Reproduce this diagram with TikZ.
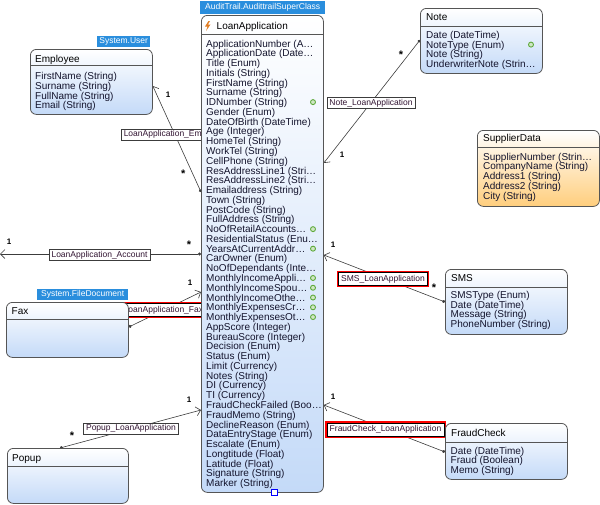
\documentclass[tikz,border=0pt]{standalone}
\usepackage{fontspec}
\setmainfont{Liberation Sans}
\usetikzlibrary{arrows.meta, backgrounds}

\definecolor{boxline}{RGB}{85,85,85}
\definecolor{boxblue}{RGB}{196,218,248}
\definecolor{boxorange}{RGB}{255,206,125}
\definecolor{tagblue}{RGB}{42,142,221}
\definecolor{linkgray}{RGB}{60,60,60}
\definecolor{keygreen}{RGB}{95,170,60}
\definecolor{boltorange}{RGB}{225,125,35}
\definecolor{attrtext}{RGB}{20,20,45}
\definecolor{labeltext}{RGB}{50,20,50}

\begin{document}
\begin{tikzpicture}[x=1pt, y=-1pt, font=\fontsize{10}{12}\selectfont]
		\tikzstyle{classbox} = [rectangle, rounded corners=6pt, draw=boxline, line width=0.8pt, anchor=north west, inner sep=0pt, top color=white, bottom color=boxblue]
		\tikzstyle{supplierbox} = [classbox, bottom color=boxorange]
		\tikzstyle{headsep} = [draw=boxline, line width=0.7pt]
		\tikzstyle{classtitle} = [anchor=base west, inner sep=0pt, text=black]
		\tikzstyle{attrrow} = [anchor=base west, inner sep=0pt, text=attrtext]
		\tikzstyle{keydot} = [circle, draw=keygreen, fill=keygreen!30, line width=0.9pt, minimum size=5pt, inner sep=0pt]
		\tikzstyle{basetag} = [anchor=north west, fill=tagblue, text=white, inner sep=0pt, font=\fontsize{8.5}{10}\selectfont]
		\tikzstyle{linklabel} = [draw=linkgray, fill=white, line width=0.5pt, inner xsep=2.5pt, inner ysep=1.5pt, text=labeltext, font=\fontsize{8.5}{10}\selectfont]
		\tikzstyle{chosen} = [linklabel, inner ysep=2.3pt, draw=black, preaction={draw=red, line width=3.6pt}]
		\tikzstyle{multtext} = [inner sep=0pt, font=\bfseries\fontsize{8}{9}\selectfont]
		\tikzstyle{multstar} = [inner sep=0pt, font=\bfseries\fontsize{11}{12}\selectfont]
		\tikzstyle{assoc} = [draw=linkgray, line width=0.6pt, {Circle[length=3pt]}-{Straight Barb[length=4.5pt, width=9pt]}]
		
		\useasboundingbox (0,0) rectangle (600,504);
		
		% LoanApplication
		\node (loanapp) [classbox, minimum width=122pt, minimum height=477pt] at (201,15) {};
		\draw [headsep] ([yshift=-19pt]loanapp.north west) -- ([yshift=-19pt]loanapp.north east);
		\fill [boltorange] (208.5,21) -- (205,26.5) -- (207.5,26.5) -- (206,31) -- (210.5,24.5) -- (208,24.5) -- (210,21) -- cycle;
		\node (loanapp-title) [classtitle] at (216.5,29) {LoanApplication};
		\foreach \attrname [count=\i] in {ApplicationNumber (A\dots, ApplicationDate (Date\dots, Title (Enum), Initials (String), FirstName (String), Surname (String), IDNumber (String), Gender (Enum), DateOfBirth (DateTime), Age (Integer), HomeTel (String), WorkTel (String), CellPhone (String), ResAddressLine1 (Stri\dots, ResAddressLine2 (Stri\dots, Emailaddress (String), Town (String), PostCode (String), FullAddress (String), NoOfRetailAccounts\dots, ResidentialStatus (Enu\dots, YearsAtCurrentAddr\dots, CarOwner (Enum), NoOfDependants (Inte\dots, MonthlyIncomeAppli\dots, MonthlyIncomeSpou\dots, MonthlyIncomeOthe\dots, MonthlyExpensesCr\dots, MonthlyExpensesOt\dots, AppScore (Integer), BureauScore (Integer), Decision (Enum), Status (Enum), Limit (Currency), Notes (String), DI (Currency), TI (Currency), FraudCheckFailed (Boo\dots, FraudMemo (String), DeclineReason (Enum), DataEntryStage (Enum), Escalate (Enum), Longtitude (Float), Latitude (Float), Signature (String), Marker (String)}
			\node (loanapp-\i) [attrrow] at (206,{47+9.77*(\i-1)}) {\attrname};
		\foreach \i in {7,20,22,25,26,27,28,29}
			\node (loanapp-key-\i) [keydot] at (313,{43.5+9.77*(\i-1)}) {};
		\draw [draw=blue, fill=white, line width=0.6pt] (271.5,489.5) rectangle (277,495);
		\node (loanapp-tag) [basetag, minimum width=125pt, minimum height=13pt] at (200,1) {AuditTrail.AudittrailSuperClass};
		
		% Employee
		\node (employee) [classbox, minimum width=122pt, minimum height=65pt] at (30,49) {};
		\draw [headsep] ([yshift=-16pt]employee.north west) -- ([yshift=-16pt]employee.north east);
		\node (employee-title) [classtitle] at (35,62) {Employee};
		\foreach \attrname [count=\i] in {FirstName (String), Surname (String), FullName (String), Email (String)}
			\node (employee-\i) [attrrow] at (35,{79.5+9.8*(\i-1)}) {\attrname};
		\node (employee-tag) [basetag, minimum width=53pt, minimum height=11pt] at (97,36) {System.User};
		
		% Note
		\node (note) [classbox, minimum width=122pt, minimum height=65pt] at (420,8) {};
		\draw [headsep] ([yshift=-18pt]note.north west) -- ([yshift=-18pt]note.north east);
		\node (note-title) [classtitle] at (426,20.7) {Note};
		\foreach \attrname [count=\i] in {Date (DateTime), NoteType (Enum), Note (String), UnderwriterNote (Strin\dots}
			\node (note-\i) [attrrow] at (426,{38.3+9.8*(\i-1)}) {\attrname};
		\node (note-key) [keydot] at (531,44.6) {};
		
		% SupplierData
		\node (supplier) [supplierbox, minimum width=122pt, minimum height=76pt] at (477,130) {};
		\draw [headsep] ([yshift=-17pt]supplier.north west) -- ([yshift=-17pt]supplier.north east);
		\node (supplier-title) [classtitle] at (483,141.7) {SupplierData};
		\foreach \attrname [count=\i] in {SupplierNumber (Strin\dots, CompanyName (String), Address1 (String), Address2 (String), City (String)}
			\node (supplier-\i) [attrrow] at (483,{160+9.8*(\i-1)}) {\attrname};
		
		% Fax
		\node (fax) [classbox, minimum width=122pt, minimum height=55pt] at (6,302) {};
		\draw [headsep] ([yshift=-17pt]fax.north west) -- ([yshift=-17pt]fax.north east);
		\node (fax-title) [classtitle] at (11.5,314.3) {Fax};
		\node (fax-tag) [basetag, minimum width=91pt, minimum height=11pt] at (37,288.5) {System.FileDocument};
		
		% SMS
		\node (sms) [classbox, minimum width=122pt, minimum height=65pt] at (445,269) {};
		\draw [headsep] ([yshift=-18pt]sms.north west) -- ([yshift=-18pt]sms.north east);
		\node (sms-title) [classtitle] at (451,281.3) {SMS};
		\foreach \attrname [count=\i] in {SMSType (Enum), Date (DateTime), Message (String), PhoneNumber (String)}
			\node (sms-\i) [attrrow] at (450.5,{298.3+9.8*(\i-1)}) {\attrname};
		
		% Popup
		\node (popup) [classbox, minimum width=121pt, minimum height=55pt] at (7,448) {};
		\draw [headsep] ([yshift=-18pt]popup.north west) -- ([yshift=-18pt]popup.north east);
		\node (popup-title) [classtitle] at (12,461) {Popup};
		
		% FraudCheck
		\node (fraud) [classbox, minimum width=122pt, minimum height=56pt] at (445,423) {};
		\draw [headsep] ([yshift=-19pt]fraud.north west) -- ([yshift=-19pt]fraud.north east);
		\node (fraud-title) [classtitle] at (451,436) {FraudCheck};
		\foreach \attrname [count=\i] in {Date (DateTime), Fraud (Boolean), Memo (String)}
			\node (fraud-\i) [attrrow] at (450.5,{454+9.8*(\i-1)}) {\attrname};
		
		% Associations, behind the boxes
		\begin{scope}[on background layer]
		\coordinate (account-end) at (0,254);
		\draw [assoc] ([yshift=-177pt]loanapp.north west) -- ([yshift=-37pt]employee.north east);
		\draw [assoc] ([yshift=-32pt]note.north west) -- ([yshift=-148pt]loanapp.north east);
		\draw [assoc] ([yshift=-239pt]loanapp.north west) -- (account-end);
		\draw [assoc] ([yshift=-25pt]fax.north east) -- ([yshift=-277pt]loanapp.north west);
		\draw [assoc] ([yshift=-33pt]sms.north west) -- ([yshift=-240pt]loanapp.north east);
		\draw [assoc] ([xshift=53pt]popup.north west) -- ([yshift=-395pt]loanapp.north west);
		\draw [assoc] ([yshift=-29pt]fraud.north west) -- ([yshift=-390pt]loanapp.north east);
		
		\node (employee-link) [linklabel, anchor=west] at (121,134.5) {LoanApplication\_Em};
		\node (note-link) [linklabel] at (371,103) {Note\_LoanApplication};
		\node (account-link) [linklabel] at (99.5,255) {LoanApplication\_Account};
		\node (fax-link) [chosen, anchor=west] at (121,310) {LoanApplication\_Fax};
		\node (sms-link) [chosen] at (383,279) {SMS\_LoanApplication};
		\node (popup-link) [linklabel] at (131,428.5) {Popup\_LoanApplication};
		\node (fraud-link) [chosen] at (385.5,429.5) {FraudCheck\_LoanApplication};
		\end{scope}
		
		% Multiplicities
		\node (employee-one) [multtext] at (168,95) {1};
		\node (employee-many) [multstar] at (183.3,174) {*};
		\node (note-many) [multstar] at (401,54.5) {*};
		\node (note-one) [multtext] at (342,155) {1};
		\node (account-one) [multtext] at (9,242) {1};
		\node (account-many) [multstar] at (189,244.5) {*};
		\node (fax-one) [multtext] at (190,283) {1};
		\node (sms-one) [multtext] at (333,245) {1};
		\node (sms-many) [multstar] at (434,287.5) {*};
		\node (popup-many) [multstar] at (72,435.5) {*};
		\node (popup-one) [multtext] at (189,400) {1};
		\node (fraud-one) [multtext] at (333,397) {1};
\end{tikzpicture}
\end{document}
